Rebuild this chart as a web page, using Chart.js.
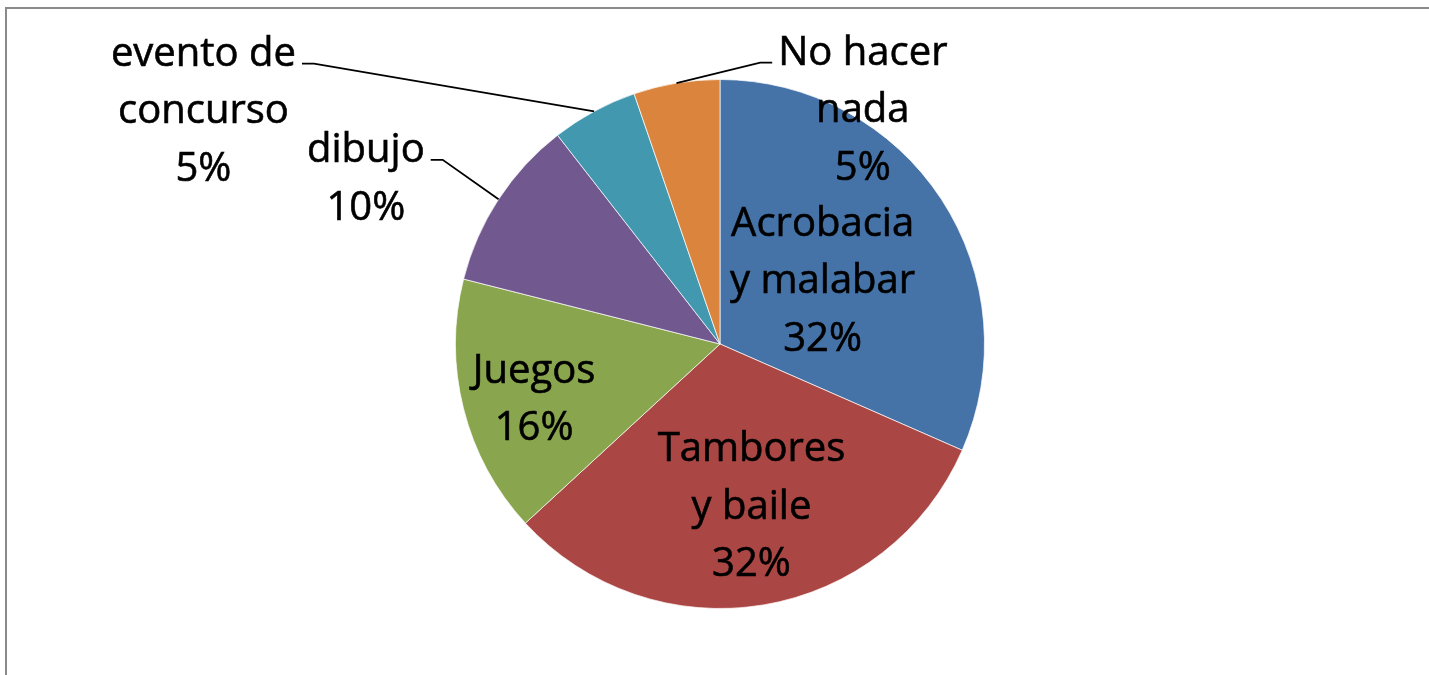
<!DOCTYPE html>
<html>
<head>
<meta charset="utf-8">
<title>Actividades</title>
<script src="https://cdn.jsdelivr.net/npm/chart.js@4.4.1/dist/chart.umd.min.js"></script>
<style>
  html, body { margin: 0; padding: 0; background: #fff; }
  #wrap { position: relative; width: 1429px; height: 675px; }
</style>
</head>
<body>
<div id="wrap"><canvas id="pieChart"></canvas></div>
<script>
// ==== Data ====
const categories = ["Acrobacia y malabar", "Tambores y baile", "Juegos", "dibujo", "evento de concurso", "No hacer nada"];
const counts = [6, 6, 3, 2, 1, 1];
const percentLabels = ["32%", "32%", "16%", "10%", "5%", "5%"];
const colors = ["#4572A7", "#AA4643", "#89A54E", "#71588F", "#4198AF", "#DB843D"];

// how each label is broken into lines (as in the original)
const labelLines = [
  ["Acrobacia", "y malabar"],
  ["Tambores", "y baile"],
  ["Juegos"],
  ["dibujo"],
  ["evento de", "concurso"],
  ["No hacer", "nada"],
];

// ==== Label layout (center of text block, in units of the radius) ====
const labelLayout = [
  { ox: 0.388, oy: -0.246 },
  { ox: 0.119, oy: 0.606 },
  { ox: -0.703, oy: 0.201 },
  { ox: -1.339, oy: -0.633, leader: true },
  { ox: -1.953, oy: -0.888, leader: true },
  { ox: 0.540, oy: -0.892, leader: true },
];

const FONT_SIZE = 40;
const FONT = `${FONT_SIZE}px "Open Sans", sans-serif`;
const LINE_H = 57.5;

// frame around the chart (only top + left visible in the original crop)
const framePlugin = {
  id: "frame",
  beforeDraw(chart) {
    const ctx = chart.ctx;
    ctx.save();
    ctx.strokeStyle = "#8a8a8a";
    ctx.lineWidth = 2;
    ctx.strokeRect(6, 8, chart.width + 50, chart.height + 50);
    ctx.restore();
  },
};

// data labels + leader lines
const labelPlugin = {
  id: "pieLabels",
  afterDatasetsDraw(chart) {
    const ctx = chart.ctx;
    const meta = chart.getDatasetMeta(0);
    ctx.save();
    ctx.font = FONT;
    ctx.fillStyle = "#000";
    ctx.strokeStyle = "#000";
    ctx.textAlign = "center";
    ctx.textBaseline = "alphabetic";
    const capH = FONT_SIZE * 0.714;

    meta.data.forEach((arc, i) => {
      const { x, y, startAngle, endAngle, outerRadius } = arc.getProps(["x", "y", "startAngle", "endAngle", "outerRadius"], true);
      const lay = labelLayout[i];
      const cx = x + lay.ox * outerRadius;
      const cy = y + lay.oy * outerRadius;
      const lines = [...labelLines[i], percentLabels[i]];
      const n = lines.length;
      const centers = lines.map((_, k) => cy + (k - (n - 1) / 2) * LINE_H);

      ctx.lineWidth = 0.6;
      lines.forEach((t, k) => {
        ctx.fillText(t, cx, centers[k] + capH / 2);
        ctx.strokeText(t, cx, centers[k] + capH / 2);
      });

      if (lay.leader) {
        const mid = (startAngle + endAngle) / 2;
        const px = x + Math.cos(mid) * outerRadius;
        const py = y + Math.sin(mid) * outerRadius;
        const w1 = ctx.measureText(lines[0]).width;
        const ly = centers[0] + 12;
        const leftOfArc = cx < px;
        const ex = leftOfArc ? cx + w1 / 2 + 6 : cx - w1 / 2 - 6;
        const bx = leftOfArc ? ex + 12 : ex - 12;
        ctx.beginPath();
        ctx.moveTo(px, py);
        ctx.lineTo(bx, ly);
        ctx.lineTo(ex, ly);
        ctx.lineWidth = 1.8;
        ctx.stroke();
      }
    });
    ctx.restore();
  },
};

new Chart(document.getElementById("pieChart").getContext("2d"), {
  type: "pie",
  data: {
    labels: categories,
    datasets: [{
      data: counts,
      backgroundColor: colors,
      borderColor: "rgba(255,255,255,0.7)",
      borderWidth: 1,
    }],
  },
  options: {
    responsive: true,
    maintainAspectRatio: false,
    animation: false,
    layout: { padding: { left: 300, right: 289, top: 79, bottom: 66 } },
    plugins: {
      legend: { display: false },
      tooltip: { enabled: false },
    },
  },
  plugins: [framePlugin, labelPlugin],
});
</script>
</body>
</html>
